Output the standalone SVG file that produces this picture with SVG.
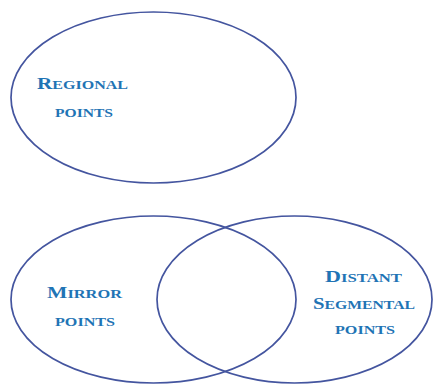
<svg xmlns="http://www.w3.org/2000/svg" width="433" height="385" viewBox="0 0 433 385">
<style>
.set{fill:none;stroke:#44559f;stroke-width:1.7}
.lbl{font-family:"Liberation Serif","Times New Roman",serif;font-weight:bold;fill:#1f74b5}
.cap{font-size:16.5px}
.sc{font-size:12.5px}
</style>
<rect width="433" height="385" fill="#ffffff"/>
<g id="regional">
<ellipse class="set" cx="153.5" cy="97.5" rx="142.5" ry="85.5"/>
<text class="lbl" x="37" y="89" textLength="91" lengthAdjust="spacingAndGlyphs"><tspan class="cap">R</tspan><tspan class="sc">EGIONAL</tspan></text>
<text class="lbl sc" x="55" y="117" textLength="58" lengthAdjust="spacingAndGlyphs">POINTS</text>
</g>
<g id="mirror">
<ellipse class="set" cx="153.5" cy="299.5" rx="142.5" ry="83.5"/>
<text class="lbl" x="47" y="298" textLength="75" lengthAdjust="spacingAndGlyphs"><tspan class="cap">M</tspan><tspan class="sc">IRROR</tspan></text>
<text class="lbl sc" x="55" y="326" textLength="60" lengthAdjust="spacingAndGlyphs">POINTS</text>
</g>
<g id="distant">
<ellipse class="set" cx="294.5" cy="299.5" rx="137.5" ry="83.5"/>
<text class="lbl" x="325" y="282" textLength="77" lengthAdjust="spacingAndGlyphs"><tspan class="cap">D</tspan><tspan class="sc">ISTANT</tspan></text>
<text class="lbl" x="313" y="309" textLength="102" lengthAdjust="spacingAndGlyphs"><tspan class="cap">S</tspan><tspan class="sc">EGMENTAL</tspan></text>
<text class="lbl sc" x="335" y="334" textLength="60" lengthAdjust="spacingAndGlyphs">POINTS</text>
</g>
<g id="connectors"></g>
</svg>
